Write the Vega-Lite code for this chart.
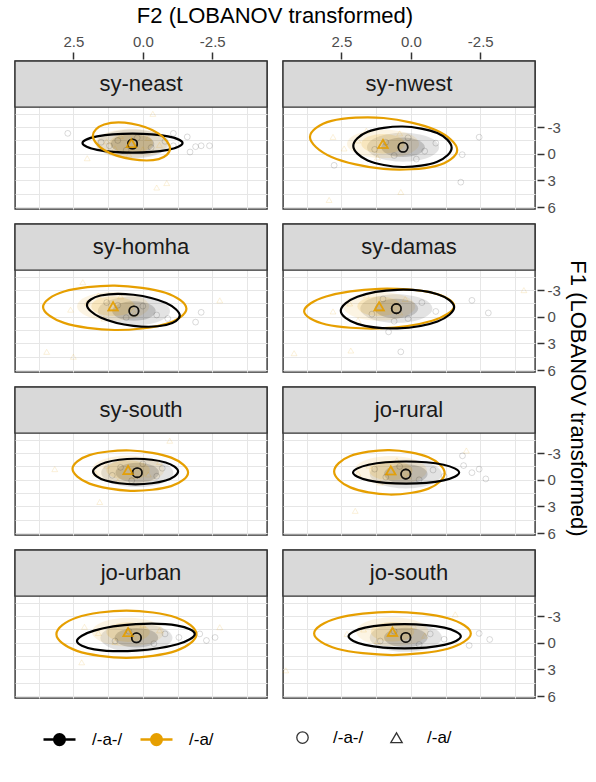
{
 "$schema": "https://vega.github.io/schema/vega-lite/v6.json",
 "padding": {"left": 13, "top": 5, "right": 5, "bottom": 5},
 "title": {"text": "F1 (LOBANOV transformed)", "orient": "right", "anchor": "middle", "font": "Liberation Sans", "fontSize": 22, "fontWeight": "normal", "color": "#000000", "offset": 6, "dx": 21},
 "data": {"values": [
  {"region":"sy-neast","kind":"e","vowel":"/-a-/","i":0,"F2":2.17,"F1":-1.2},
  {"region":"sy-neast","kind":"e","vowel":"/-a-/","i":1,"F2":1.643,"F1":-0.444},
  {"region":"sy-neast","kind":"e","vowel":"/-a-/","i":2,"F2":0.37,"F1":-0.13},
  {"region":"sy-neast","kind":"e","vowel":"/-a-/","i":3,"F2":-0.903,"F1":-0.444},
  {"region":"sy-neast","kind":"e","vowel":"/-a-/","i":4,"F2":-1.43,"F1":-1.2},
  {"region":"sy-neast","kind":"e","vowel":"/-a-/","i":5,"F2":-0.903,"F1":-1.956},
  {"region":"sy-neast","kind":"e","vowel":"/-a-/","i":6,"F2":0.37,"F1":-2.27},
  {"region":"sy-neast","kind":"e","vowel":"/-a-/","i":7,"F2":1.643,"F1":-1.956},
  {"region":"sy-neast","kind":"e","vowel":"/-a/","i":0,"F2":1.8,"F1":-2.03},
  {"region":"sy-neast","kind":"e","vowel":"/-a/","i":1,"F2":1.393,"F1":-0.431},
  {"region":"sy-neast","kind":"e","vowel":"/-a/","i":2,"F2":0.41,"F1":0.6},
  {"region":"sy-neast","kind":"e","vowel":"/-a/","i":3,"F2":-0.573,"F1":0.601},
  {"region":"sy-neast","kind":"e","vowel":"/-a/","i":4,"F2":-0.98,"F1":-0.57},
  {"region":"sy-neast","kind":"e","vowel":"/-a/","i":5,"F2":-0.573,"F1":-2.269},
  {"region":"sy-neast","kind":"e","vowel":"/-a/","i":6,"F2":0.41,"F1":-3.4},
  {"region":"sy-neast","kind":"e","vowel":"/-a/","i":7,"F2":1.393,"F1":-3.301},
  {"region":"sy-nwest","kind":"e","vowel":"/-a/","i":0,"F2":3.63,"F1":-1.89},
  {"region":"sy-nwest","kind":"e","vowel":"/-a/","i":1,"F2":2.854,"F1":0.353},
  {"region":"sy-nwest","kind":"e","vowel":"/-a/","i":2,"F2":0.98,"F1":1.71},
  {"region":"sy-nwest","kind":"e","vowel":"/-a/","i":3,"F2":-0.894,"F1":1.385},
  {"region":"sy-nwest","kind":"e","vowel":"/-a/","i":4,"F2":-1.67,"F1":-0.43},
  {"region":"sy-nwest","kind":"e","vowel":"/-a/","i":5,"F2":-0.894,"F1":-2.673},
  {"region":"sy-nwest","kind":"e","vowel":"/-a/","i":6,"F2":0.98,"F1":-4.03},
  {"region":"sy-nwest","kind":"e","vowel":"/-a/","i":7,"F2":2.854,"F1":-3.705},
  {"region":"sy-nwest","kind":"e","vowel":"/-a-/","i":0,"F2":2.07,"F1":-0.89},
  {"region":"sy-nwest","kind":"e","vowel":"/-a-/","i":1,"F2":1.551,"F1":0.751},
  {"region":"sy-nwest","kind":"e","vowel":"/-a-/","i":2,"F2":0.3,"F1":1.49},
  {"region":"sy-nwest","kind":"e","vowel":"/-a-/","i":3,"F2":-0.951,"F1":0.893},
  {"region":"sy-nwest","kind":"e","vowel":"/-a-/","i":4,"F2":-1.47,"F1":-0.69},
  {"region":"sy-nwest","kind":"e","vowel":"/-a-/","i":5,"F2":-0.951,"F1":-2.331},
  {"region":"sy-nwest","kind":"e","vowel":"/-a-/","i":6,"F2":0.3,"F1":-3.07},
  {"region":"sy-nwest","kind":"e","vowel":"/-a-/","i":7,"F2":1.551,"F1":-2.473},
  {"region":"sy-homha","kind":"e","vowel":"/-a/","i":0,"F2":3.59,"F1":-1.11},
  {"region":"sy-homha","kind":"e","vowel":"/-a/","i":1,"F2":2.834,"F1":0.687},
  {"region":"sy-homha","kind":"e","vowel":"/-a/","i":2,"F2":1.01,"F1":1.49},
  {"region":"sy-homha","kind":"e","vowel":"/-a/","i":3,"F2":-0.814,"F1":0.829},
  {"region":"sy-homha","kind":"e","vowel":"/-a/","i":4,"F2":-1.57,"F1":-0.91},
  {"region":"sy-homha","kind":"e","vowel":"/-a/","i":5,"F2":-0.814,"F1":-2.707},
  {"region":"sy-homha","kind":"e","vowel":"/-a/","i":6,"F2":1.01,"F1":-3.51},
  {"region":"sy-homha","kind":"e","vowel":"/-a/","i":7,"F2":2.834,"F1":-2.849},
  {"region":"sy-homha","kind":"e","vowel":"/-a-/","i":0,"F2":2.01,"F1":-1.33},
  {"region":"sy-homha","kind":"e","vowel":"/-a-/","i":1,"F2":1.521,"F1":0.083},
  {"region":"sy-homha","kind":"e","vowel":"/-a-/","i":2,"F2":0.34,"F1":1.02},
  {"region":"sy-homha","kind":"e","vowel":"/-a-/","i":3,"F2":-0.841,"F1":0.931},
  {"region":"sy-homha","kind":"e","vowel":"/-a-/","i":4,"F2":-1.33,"F1":-0.13},
  {"region":"sy-homha","kind":"e","vowel":"/-a-/","i":5,"F2":-0.841,"F1":-1.543},
  {"region":"sy-homha","kind":"e","vowel":"/-a-/","i":6,"F2":0.34,"F1":-2.48},
  {"region":"sy-homha","kind":"e","vowel":"/-a-/","i":7,"F2":1.521,"F1":-2.391},
  {"region":"sy-damas","kind":"e","vowel":"/-a/","i":0,"F2":3.84,"F1":-0.62},
  {"region":"sy-damas","kind":"e","vowel":"/-a/","i":1,"F2":3.049,"F1":0.869},
  {"region":"sy-damas","kind":"e","vowel":"/-a/","i":2,"F2":1.14,"F1":1.31},
  {"region":"sy-damas","kind":"e","vowel":"/-a/","i":3,"F2":-0.769,"F1":0.445},
  {"region":"sy-damas","kind":"e","vowel":"/-a/","i":4,"F2":-1.56,"F1":-1.22},
  {"region":"sy-damas","kind":"e","vowel":"/-a/","i":5,"F2":-0.769,"F1":-2.709},
  {"region":"sy-damas","kind":"e","vowel":"/-a/","i":6,"F2":1.14,"F1":-3.15},
  {"region":"sy-damas","kind":"e","vowel":"/-a/","i":7,"F2":3.049,"F1":-2.285},
  {"region":"sy-damas","kind":"e","vowel":"/-a-/","i":0,"F2":2.52,"F1":-0.67},
  {"region":"sy-damas","kind":"e","vowel":"/-a-/","i":1,"F2":1.922,"F1":0.805},
  {"region":"sy-damas","kind":"e","vowel":"/-a-/","i":2,"F2":0.48,"F1":1.3},
  {"region":"sy-damas","kind":"e","vowel":"/-a-/","i":3,"F2":-0.962,"F1":0.523},
  {"region":"sy-damas","kind":"e","vowel":"/-a-/","i":4,"F2":-1.56,"F1":-1.07},
  {"region":"sy-damas","kind":"e","vowel":"/-a-/","i":5,"F2":-0.962,"F1":-2.545},
  {"region":"sy-damas","kind":"e","vowel":"/-a-/","i":6,"F2":0.48,"F1":-3.04},
  {"region":"sy-damas","kind":"e","vowel":"/-a-/","i":7,"F2":1.922,"F1":-2.263},
  {"region":"sy-south","kind":"e","vowel":"/-a/","i":0,"F2":2.53,"F1":-1.23},
  {"region":"sy-south","kind":"e","vowel":"/-a/","i":1,"F2":1.921,"F1":0.434},
  {"region":"sy-south","kind":"e","vowel":"/-a/","i":2,"F2":0.45,"F1":1.24},
  {"region":"sy-south","kind":"e","vowel":"/-a/","i":3,"F2":-1.021,"F1":0.716},
  {"region":"sy-south","kind":"e","vowel":"/-a/","i":4,"F2":-1.63,"F1":-0.83},
  {"region":"sy-south","kind":"e","vowel":"/-a/","i":5,"F2":-1.021,"F1":-2.494},
  {"region":"sy-south","kind":"e","vowel":"/-a/","i":6,"F2":0.45,"F1":-3.3},
  {"region":"sy-south","kind":"e","vowel":"/-a/","i":7,"F2":1.921,"F1":-2.776},
  {"region":"sy-south","kind":"e","vowel":"/-a-/","i":0,"F2":1.79,"F1":-0.93},
  {"region":"sy-south","kind":"e","vowel":"/-a-/","i":1,"F2":1.342,"F1":0.088},
  {"region":"sy-south","kind":"e","vowel":"/-a-/","i":2,"F2":0.26,"F1":0.51},
  {"region":"sy-south","kind":"e","vowel":"/-a-/","i":3,"F2":-0.822,"F1":0.088},
  {"region":"sy-south","kind":"e","vowel":"/-a-/","i":4,"F2":-1.27,"F1":-0.93},
  {"region":"sy-south","kind":"e","vowel":"/-a-/","i":5,"F2":-0.822,"F1":-1.948},
  {"region":"sy-south","kind":"e","vowel":"/-a-/","i":6,"F2":0.26,"F1":-2.37},
  {"region":"sy-south","kind":"e","vowel":"/-a-/","i":7,"F2":1.342,"F1":-1.948},
  {"region":"jo-rural","kind":"e","vowel":"/-a/","i":0,"F2":2.76,"F1":-0.94},
  {"region":"jo-rural","kind":"e","vowel":"/-a/","i":1,"F2":2.177,"F1":0.857},
  {"region":"jo-rural","kind":"e","vowel":"/-a/","i":2,"F2":0.77,"F1":1.66},
  {"region":"jo-rural","kind":"e","vowel":"/-a/","i":3,"F2":-0.637,"F1":0.999},
  {"region":"jo-rural","kind":"e","vowel":"/-a/","i":4,"F2":-1.22,"F1":-0.74},
  {"region":"jo-rural","kind":"e","vowel":"/-a/","i":5,"F2":-0.637,"F1":-2.537},
  {"region":"jo-rural","kind":"e","vowel":"/-a/","i":6,"F2":0.77,"F1":-3.34},
  {"region":"jo-rural","kind":"e","vowel":"/-a/","i":7,"F2":2.177,"F1":-2.679},
  {"region":"jo-rural","kind":"e","vowel":"/-a-/","i":0,"F2":2.08,"F1":-0.81},
  {"region":"jo-rural","kind":"e","vowel":"/-a-/","i":1,"F2":1.52,"F1":0.074},
  {"region":"jo-rural","kind":"e","vowel":"/-a-/","i":2,"F2":0.17,"F1":0.44},
  {"region":"jo-rural","kind":"e","vowel":"/-a-/","i":3,"F2":-1.18,"F1":0.074},
  {"region":"jo-rural","kind":"e","vowel":"/-a-/","i":4,"F2":-1.74,"F1":-0.81},
  {"region":"jo-rural","kind":"e","vowel":"/-a-/","i":5,"F2":-1.18,"F1":-1.694},
  {"region":"jo-rural","kind":"e","vowel":"/-a-/","i":6,"F2":0.17,"F1":-2.06},
  {"region":"jo-rural","kind":"e","vowel":"/-a-/","i":7,"F2":1.52,"F1":-1.694},
  {"region":"jo-urban","kind":"e","vowel":"/-a/","i":0,"F2":3.11,"F1":-0.97},
  {"region":"jo-urban","kind":"e","vowel":"/-a/","i":1,"F2":2.372,"F1":0.911},
  {"region":"jo-urban","kind":"e","vowel":"/-a/","i":2,"F2":0.59,"F1":1.69},
  {"region":"jo-urban","kind":"e","vowel":"/-a/","i":3,"F2":-1.192,"F1":0.911},
  {"region":"jo-urban","kind":"e","vowel":"/-a/","i":4,"F2":-1.93,"F1":-0.97},
  {"region":"jo-urban","kind":"e","vowel":"/-a/","i":5,"F2":-1.192,"F1":-2.851},
  {"region":"jo-urban","kind":"e","vowel":"/-a/","i":6,"F2":0.59,"F1":-3.63},
  {"region":"jo-urban","kind":"e","vowel":"/-a/","i":7,"F2":2.372,"F1":-2.851},
  {"region":"jo-urban","kind":"e","vowel":"/-a-/","i":0,"F2":2.37,"F1":-0.2},
  {"region":"jo-urban","kind":"e","vowel":"/-a-/","i":1,"F2":1.749,"F1":0.736},
  {"region":"jo-urban","kind":"e","vowel":"/-a-/","i":2,"F2":0.25,"F1":0.89},
  {"region":"jo-urban","kind":"e","vowel":"/-a-/","i":3,"F2":-1.249,"F1":0.17},
  {"region":"jo-urban","kind":"e","vowel":"/-a-/","i":4,"F2":-1.87,"F1":-1.0},
  {"region":"jo-urban","kind":"e","vowel":"/-a-/","i":5,"F2":-1.249,"F1":-1.936},
  {"region":"jo-urban","kind":"e","vowel":"/-a-/","i":6,"F2":0.25,"F1":-2.09},
  {"region":"jo-urban","kind":"e","vowel":"/-a-/","i":7,"F2":1.749,"F1":-1.37},
  {"region":"jo-south","kind":"e","vowel":"/-a/","i":0,"F2":3.48,"F1":-1.05},
  {"region":"jo-south","kind":"e","vowel":"/-a/","i":1,"F2":2.654,"F1":0.668},
  {"region":"jo-south","kind":"e","vowel":"/-a/","i":2,"F2":0.66,"F1":1.38},
  {"region":"jo-south","kind":"e","vowel":"/-a/","i":3,"F2":-1.334,"F1":0.668},
  {"region":"jo-south","kind":"e","vowel":"/-a/","i":4,"F2":-2.16,"F1":-1.05},
  {"region":"jo-south","kind":"e","vowel":"/-a/","i":5,"F2":-1.334,"F1":-2.768},
  {"region":"jo-south","kind":"e","vowel":"/-a/","i":6,"F2":0.66,"F1":-3.48},
  {"region":"jo-south","kind":"e","vowel":"/-a/","i":7,"F2":2.654,"F1":-2.768},
  {"region":"jo-south","kind":"e","vowel":"/-a-/","i":0,"F2":2.24,"F1":-0.73},
  {"region":"jo-south","kind":"e","vowel":"/-a-/","i":1,"F2":1.648,"F1":0.239},
  {"region":"jo-south","kind":"e","vowel":"/-a-/","i":2,"F2":0.22,"F1":0.64},
  {"region":"jo-south","kind":"e","vowel":"/-a-/","i":3,"F2":-1.208,"F1":0.239},
  {"region":"jo-south","kind":"e","vowel":"/-a-/","i":4,"F2":-1.8,"F1":-0.73},
  {"region":"jo-south","kind":"e","vowel":"/-a-/","i":5,"F2":-1.208,"F1":-1.699},
  {"region":"jo-south","kind":"e","vowel":"/-a-/","i":6,"F2":0.22,"F1":-2.1},
  {"region":"jo-south","kind":"e","vowel":"/-a-/","i":7,"F2":1.648,"F1":-1.699},
  {"region":"sy-neast","kind":"m","vowel":"/-a-/","F2":0.37,"F1":-1.1},
  {"region":"sy-neast","kind":"m","vowel":"/-a/","F2":0.41,"F1":-1.2},
  {"region":"sy-nwest","kind":"m","vowel":"/-a-/","F2":0.28,"F1":-0.74},
  {"region":"sy-nwest","kind":"m","vowel":"/-a/","F2":1.0,"F1":-1.12},
  {"region":"sy-homha","kind":"m","vowel":"/-a-/","F2":0.32,"F1":-0.65},
  {"region":"sy-homha","kind":"m","vowel":"/-a/","F2":1.07,"F1":-1.18},
  {"region":"sy-damas","kind":"m","vowel":"/-a-/","F2":0.52,"F1":-0.92},
  {"region":"sy-damas","kind":"m","vowel":"/-a/","F2":1.14,"F1":-1.18},
  {"region":"sy-south","kind":"m","vowel":"/-a-/","F2":0.2,"F1":-0.8},
  {"region":"sy-south","kind":"m","vowel":"/-a/","F2":0.53,"F1":-1.1},
  {"region":"jo-rural","kind":"m","vowel":"/-a-/","F2":0.18,"F1":-0.64},
  {"region":"jo-rural","kind":"m","vowel":"/-a/","F2":0.72,"F1":-1.05},
  {"region":"jo-urban","kind":"m","vowel":"/-a-/","F2":0.23,"F1":-0.56},
  {"region":"jo-urban","kind":"m","vowel":"/-a/","F2":0.53,"F1":-1.2},
  {"region":"jo-south","kind":"m","vowel":"/-a-/","F2":0.18,"F1":-0.6},
  {"region":"jo-south","kind":"m","vowel":"/-a/","F2":0.66,"F1":-1.24},
  {"region":"sy-neast","kind":"t","vowel":"/-a-/","F2":0.9,"F1":-1.5},
  {"region":"sy-neast","kind":"t","vowel":"/-a-/","F2":-0.3,"F1":-0.7},
  {"region":"sy-neast","kind":"t","vowel":"/-a-/","F2":1.2,"F1":-0.9},
  {"region":"sy-neast","kind":"t","vowel":"/-a-/","F2":-0.8,"F1":-1.4},
  {"region":"sy-neast","kind":"t","vowel":"/-a-/","F2":0.2,"F1":-1.8},
  {"region":"sy-neast","kind":"t","vowel":"/-a-/","F2":0.6,"F1":-0.4},
  {"region":"sy-neast","kind":"t","vowel":"/-a-/","F2":-1.1,"F1":-0.9},
  {"region":"sy-neast","kind":"t","vowel":"/-a-/","F2":1.5,"F1":-1.3},
  {"region":"sy-neast","kind":"t","vowel":"/-a-/","F2":-1.6,"F1":-1.9},
  {"region":"sy-neast","kind":"t","vowel":"/-a-/","F2":-1.9,"F1":-0.8},
  {"region":"sy-neast","kind":"t","vowel":"/-a-/","F2":-2.1,"F1":-0.9},
  {"region":"sy-neast","kind":"t","vowel":"/-a-/","F2":-2.4,"F1":-0.9},
  {"region":"sy-neast","kind":"t","vowel":"/-a-/","F2":-1.7,"F1":-0.2},
  {"region":"sy-neast","kind":"t","vowel":"/-a-/","F2":2.7,"F1":-2.3},
  {"region":"sy-neast","kind":"t","vowel":"/-a-/","F2":-1.1,"F1":-2.3},
  {"region":"sy-neast","kind":"t","vowel":"/-a/","F2":1.0,"F1":-0.6},
  {"region":"sy-neast","kind":"t","vowel":"/-a/","F2":-0.2,"F1":-1.8},
  {"region":"sy-neast","kind":"t","vowel":"/-a/","F2":0.8,"F1":-2.0},
  {"region":"sy-neast","kind":"t","vowel":"/-a/","F2":0.0,"F1":-0.5},
  {"region":"sy-neast","kind":"t","vowel":"/-a/","F2":1.3,"F1":-1.4},
  {"region":"sy-neast","kind":"t","vowel":"/-a/","F2":-0.6,"F1":-1.0},
  {"region":"sy-neast","kind":"t","vowel":"/-a/","F2":0.5,"F1":0.1},
  {"region":"sy-neast","kind":"t","vowel":"/-a/","F2":-0.36,"F1":-4.5},
  {"region":"sy-neast","kind":"t","vowel":"/-a/","F2":-0.5,"F1":3.8},
  {"region":"sy-neast","kind":"t","vowel":"/-a/","F2":-0.86,"F1":3.3},
  {"region":"sy-neast","kind":"t","vowel":"/-a/","F2":2.0,"F1":0.5},
  {"region":"sy-nwest","kind":"t","vowel":"/-a-/","F2":0.9,"F1":-1.3},
  {"region":"sy-nwest","kind":"t","vowel":"/-a-/","F2":-0.5,"F1":-0.3},
  {"region":"sy-nwest","kind":"t","vowel":"/-a-/","F2":0.6,"F1":0.2},
  {"region":"sy-nwest","kind":"t","vowel":"/-a-/","F2":-0.9,"F1":-1.2},
  {"region":"sy-nwest","kind":"t","vowel":"/-a-/","F2":0.1,"F1":-1.8},
  {"region":"sy-nwest","kind":"t","vowel":"/-a-/","F2":1.3,"F1":-0.5},
  {"region":"sy-nwest","kind":"t","vowel":"/-a-/","F2":-0.2,"F1":0.6},
  {"region":"sy-nwest","kind":"t","vowel":"/-a-/","F2":-2.46,"F1":-1.87},
  {"region":"sy-nwest","kind":"t","vowel":"/-a-/","F2":-1.8,"F1":3.2},
  {"region":"sy-nwest","kind":"t","vowel":"/-a-/","F2":-1.85,"F1":0.1},
  {"region":"sy-nwest","kind":"t","vowel":"/-a-/","F2":2.76,"F1":1.3},
  {"region":"sy-nwest","kind":"t","vowel":"/-a/","F2":1.9,"F1":-1.5},
  {"region":"sy-nwest","kind":"t","vowel":"/-a/","F2":0.4,"F1":-2.3},
  {"region":"sy-nwest","kind":"t","vowel":"/-a/","F2":2.4,"F1":-0.6},
  {"region":"sy-nwest","kind":"t","vowel":"/-a/","F2":1.2,"F1":0.4},
  {"region":"sy-nwest","kind":"t","vowel":"/-a/","F2":1.6,"F1":-2.6},
  {"region":"sy-nwest","kind":"t","vowel":"/-a/","F2":2.8,"F1":-1.9},
  {"region":"sy-nwest","kind":"t","vowel":"/-a/","F2":0.36,"F1":4.3},
  {"region":"sy-nwest","kind":"t","vowel":"/-a/","F2":2.94,"F1":5.2},
  {"region":"sy-homha","kind":"t","vowel":"/-a-/","F2":-0.5,"F1":-0.2},
  {"region":"sy-homha","kind":"t","vowel":"/-a-/","F2":0.9,"F1":-1.3},
  {"region":"sy-homha","kind":"t","vowel":"/-a-/","F2":-0.9,"F1":0.2},
  {"region":"sy-homha","kind":"t","vowel":"/-a-/","F2":1.3,"F1":-1.6},
  {"region":"sy-homha","kind":"t","vowel":"/-a-/","F2":0.0,"F1":-1.2},
  {"region":"sy-homha","kind":"t","vowel":"/-a-/","F2":0.6,"F1":0.1},
  {"region":"sy-homha","kind":"t","vowel":"/-a-/","F2":-1.9,"F1":0.6},
  {"region":"sy-homha","kind":"t","vowel":"/-a-/","F2":-2.1,"F1":-0.5},
  {"region":"sy-homha","kind":"t","vowel":"/-a/","F2":2.0,"F1":-1.6},
  {"region":"sy-homha","kind":"t","vowel":"/-a/","F2":0.3,"F1":-0.4},
  {"region":"sy-homha","kind":"t","vowel":"/-a/","F2":1.6,"F1":-2.4},
  {"region":"sy-homha","kind":"t","vowel":"/-a/","F2":2.6,"F1":-0.8},
  {"region":"sy-homha","kind":"t","vowel":"/-a/","F2":0.8,"F1":-2.3},
  {"region":"sy-homha","kind":"t","vowel":"/-a/","F2":1.4,"F1":0.2},
  {"region":"sy-homha","kind":"t","vowel":"/-a/","F2":3.46,"F1":3.95},
  {"region":"sy-homha","kind":"t","vowel":"/-a/","F2":-2.77,"F1":-1.85},
  {"region":"sy-homha","kind":"t","vowel":"/-a/","F2":2.16,"F1":-3.9},
  {"region":"sy-homha","kind":"t","vowel":"/-a/","F2":2.5,"F1":4.5},
  {"region":"sy-damas","kind":"t","vowel":"/-a-/","F2":-0.4,"F1":-1.6},
  {"region":"sy-damas","kind":"t","vowel":"/-a-/","F2":1.4,"F1":-0.3},
  {"region":"sy-damas","kind":"t","vowel":"/-a-/","F2":0.1,"F1":0.2},
  {"region":"sy-damas","kind":"t","vowel":"/-a-/","F2":1.0,"F1":-2.0},
  {"region":"sy-damas","kind":"t","vowel":"/-a-/","F2":-0.9,"F1":-0.6},
  {"region":"sy-damas","kind":"t","vowel":"/-a-/","F2":0.6,"F1":0.5},
  {"region":"sy-damas","kind":"t","vowel":"/-a-/","F2":-2.79,"F1":-0.43},
  {"region":"sy-damas","kind":"t","vowel":"/-a-/","F2":-2.2,"F1":-1.85},
  {"region":"sy-damas","kind":"t","vowel":"/-a-/","F2":0.36,"F1":3.95},
  {"region":"sy-damas","kind":"t","vowel":"/-a-/","F2":0.8,"F1":1.7},
  {"region":"sy-damas","kind":"t","vowel":"/-a/","F2":2.2,"F1":-1.5},
  {"region":"sy-damas","kind":"t","vowel":"/-a/","F2":0.4,"F1":-0.5},
  {"region":"sy-damas","kind":"t","vowel":"/-a/","F2":2.8,"F1":-0.6},
  {"region":"sy-damas","kind":"t","vowel":"/-a/","F2":1.6,"F1":-2.4},
  {"region":"sy-damas","kind":"t","vowel":"/-a/","F2":0.2,"F1":-2.0},
  {"region":"sy-damas","kind":"t","vowel":"/-a/","F2":1.9,"F1":0.4},
  {"region":"sy-damas","kind":"t","vowel":"/-a/","F2":4.2,"F1":4.1},
  {"region":"sy-damas","kind":"t","vowel":"/-a/","F2":2.16,"F1":3.8},
  {"region":"sy-damas","kind":"t","vowel":"/-a/","F2":-4.07,"F1":-3.0},
  {"region":"sy-south","kind":"t","vowel":"/-a-/","F2":0.8,"F1":-1.4},
  {"region":"sy-south","kind":"t","vowel":"/-a-/","F2":-0.5,"F1":-0.4},
  {"region":"sy-south","kind":"t","vowel":"/-a-/","F2":0.4,"F1":0.1},
  {"region":"sy-south","kind":"t","vowel":"/-a-/","F2":-0.7,"F1":-1.3},
  {"region":"sy-south","kind":"t","vowel":"/-a-/","F2":1.1,"F1":-0.5},
  {"region":"sy-south","kind":"t","vowel":"/-a-/","F2":0.0,"F1":-1.8},
  {"region":"sy-south","kind":"t","vowel":"/-a/","F2":1.3,"F1":-1.6},
  {"region":"sy-south","kind":"t","vowel":"/-a/","F2":-0.2,"F1":-0.6},
  {"region":"sy-south","kind":"t","vowel":"/-a/","F2":0.9,"F1":0.2},
  {"region":"sy-south","kind":"t","vowel":"/-a/","F2":-0.6,"F1":-2.0},
  {"region":"sy-south","kind":"t","vowel":"/-a/","F2":1.7,"F1":-0.7},
  {"region":"sy-south","kind":"t","vowel":"/-a/","F2":1.55,"F1":2.5},
  {"region":"sy-south","kind":"t","vowel":"/-a/","F2":-0.97,"F1":-4.4},
  {"region":"sy-south","kind":"t","vowel":"/-a/","F2":3.17,"F1":-1.2},
  {"region":"jo-rural","kind":"t","vowel":"/-a-/","F2":-0.8,"F1":-1.1},
  {"region":"jo-rural","kind":"t","vowel":"/-a-/","F2":0.9,"F1":-0.3},
  {"region":"jo-rural","kind":"t","vowel":"/-a-/","F2":-0.3,"F1":0.0},
  {"region":"jo-rural","kind":"t","vowel":"/-a-/","F2":1.3,"F1":-1.2},
  {"region":"jo-rural","kind":"t","vowel":"/-a-/","F2":-1.2,"F1":-0.4},
  {"region":"jo-rural","kind":"t","vowel":"/-a-/","F2":0.4,"F1":-1.5},
  {"region":"jo-rural","kind":"t","vowel":"/-a-/","F2":-1.86,"F1":-2.7},
  {"region":"jo-rural","kind":"t","vowel":"/-a-/","F2":-2.7,"F1":-0.1},
  {"region":"jo-rural","kind":"t","vowel":"/-a-/","F2":-2.46,"F1":-1.2},
  {"region":"jo-rural","kind":"t","vowel":"/-a-/","F2":-1.9,"F1":-1.6},
  {"region":"jo-rural","kind":"t","vowel":"/-a-/","F2":-2.2,"F1":-0.8},
  {"region":"jo-rural","kind":"t","vowel":"/-a/","F2":1.5,"F1":-1.6},
  {"region":"jo-rural","kind":"t","vowel":"/-a/","F2":0.1,"F1":-0.4},
  {"region":"jo-rural","kind":"t","vowel":"/-a/","F2":1.9,"F1":-0.7},
  {"region":"jo-rural","kind":"t","vowel":"/-a/","F2":0.5,"F1":-2.2},
  {"region":"jo-rural","kind":"t","vowel":"/-a/","F2":1.1,"F1":0.3},
  {"region":"jo-rural","kind":"t","vowel":"/-a/","F2":2.0,"F1":3.5},
  {"region":"jo-rural","kind":"t","vowel":"/-a/","F2":-2.0,"F1":-3.3},
  {"region":"jo-urban","kind":"t","vowel":"/-a-/","F2":-0.8,"F1":-1.0},
  {"region":"jo-urban","kind":"t","vowel":"/-a-/","F2":1.0,"F1":-0.2},
  {"region":"jo-urban","kind":"t","vowel":"/-a-/","F2":-1.3,"F1":-0.6},
  {"region":"jo-urban","kind":"t","vowel":"/-a-/","F2":0.5,"F1":-1.3},
  {"region":"jo-urban","kind":"t","vowel":"/-a-/","F2":-0.4,"F1":0.1},
  {"region":"jo-urban","kind":"t","vowel":"/-a-/","F2":-2.29,"F1":-0.26},
  {"region":"jo-urban","kind":"t","vowel":"/-a-/","F2":-2.05,"F1":-1.0},
  {"region":"jo-urban","kind":"t","vowel":"/-a-/","F2":-2.6,"F1":-0.6},
  {"region":"jo-urban","kind":"t","vowel":"/-a/","F2":1.6,"F1":-1.1},
  {"region":"jo-urban","kind":"t","vowel":"/-a/","F2":0.0,"F1":-2.0},
  {"region":"jo-urban","kind":"t","vowel":"/-a/","F2":1.0,"F1":-0.1},
  {"region":"jo-urban","kind":"t","vowel":"/-a/","F2":2.1,"F1":-1.8},
  {"region":"jo-urban","kind":"t","vowel":"/-a/","F2":-0.6,"F1":-1.4},
  {"region":"jo-urban","kind":"t","vowel":"/-a/","F2":-2.77,"F1":-1.76},
  {"region":"jo-urban","kind":"t","vowel":"/-a/","F2":2.2,"F1":2.2},
  {"region":"jo-south","kind":"t","vowel":"/-a-/","F2":-0.7,"F1":-1.0},
  {"region":"jo-south","kind":"t","vowel":"/-a-/","F2":1.1,"F1":-0.2},
  {"region":"jo-south","kind":"t","vowel":"/-a-/","F2":-1.2,"F1":-0.4},
  {"region":"jo-south","kind":"t","vowel":"/-a-/","F2":0.6,"F1":-1.3},
  {"region":"jo-south","kind":"t","vowel":"/-a-/","F2":-0.3,"F1":0.2},
  {"region":"jo-south","kind":"t","vowel":"/-a-/","F2":-2.84,"F1":-0.37},
  {"region":"jo-south","kind":"t","vowel":"/-a-/","F2":-2.46,"F1":-1.05},
  {"region":"jo-south","kind":"t","vowel":"/-a-/","F2":-2.1,"F1":0.3},
  {"region":"jo-south","kind":"t","vowel":"/-a/","F2":1.7,"F1":-1.5},
  {"region":"jo-south","kind":"t","vowel":"/-a/","F2":-0.1,"F1":-1.9},
  {"region":"jo-south","kind":"t","vowel":"/-a/","F2":1.2,"F1":-0.2},
  {"region":"jo-south","kind":"t","vowel":"/-a/","F2":2.3,"F1":-1.0},
  {"region":"jo-south","kind":"t","vowel":"/-a/","F2":-0.5,"F1":-0.8},
  {"region":"jo-south","kind":"t","vowel":"/-a/","F2":4.5,"F1":3.1},
  {"region":"jo-south","kind":"t","vowel":"/-a/","F2":-1.6,"F1":-3.2}
 ]},
 "facet": {
  "field": "region", "type": "nominal", "title": "F2 (LOBANOV transformed)",
  "sort": ["sy-neast","sy-nwest","sy-homha","sy-damas","sy-south","jo-rural","jo-urban","jo-south"],
  "header": {"labels": false, "labelFontSize": 0, "labelPadding": 0, "labelExpr": "''",
   "titleFont": "Liberation Sans", "titleFontSize": 22, "titleFontWeight": "normal", "titleColor": "#000000", "titlePadding": 6}
 },
 "columns": 2,
 "spacing": {"row": 12, "column": 11},
 "spec": {
  "width": 252,
  "height": 148,
  "encoding": {
   "x": {"field": "F2", "type": "quantitative",
    "scale": {"domain": [-4.47, 4.6], "reverse": true, "nice": false, "zero": false},
    "axis": {"orient": "top", "title": null,
     "values": [-3.75, -2.5, -1.25, 0, 1.25, 2.5, 3.75],
     "labelExpr": "datum.value % 2.5 === 0 ? replace(format(datum.value, '.1f'), '\u2212', '-') : ''",
     "tickOpacity": {"condition": {"test": "datum.value % 2.5 !== 0", "value": 0}, "value": 1}}},
   "y": {"field": "F1", "type": "quantitative",
    "scale": {"domain": [-10.45, 6.22], "reverse": true, "nice": false, "zero": false},
    "axis": {"orient": "right", "title": null,
     "values": [-4.5, -3, -1.5, 0, 1.5, 3, 4.5, 6],
     "labelExpr": "datum.value % 3 === 0 ? replace(format(datum.value, 'd'), '\u2212', '-') : ''",
     "tickOpacity": {"condition": {"test": "datum.value % 3 !== 0", "value": 0}, "value": 1}}}
  },
  "layer": [
   {
    "transform": [{"filter": "datum.kind === 'm' && datum.vowel === '/-a-/'"}],
    "mark": {"type": "rect", "fill": "#D9D9D9", "stroke": "#333333", "strokeWidth": 1.4},
    "encoding": {
     "x": {"datum": 4.6}, "x2": {"datum": -4.47},
     "y": {"datum": -10.45}, "y2": {"datum": -5.25}
    }
   },
   {
    "transform": [{"filter": "datum.kind === 'm' && datum.vowel === '/-a-/'"}],
    "mark": {"type": "text", "font": "Liberation Sans", "fontSize": 22, "color": "#1A1A1A", "baseline": "middle", "align": "center"},
    "encoding": {
     "x": {"datum": 0.065},
     "y": {"datum": -7.85},
     "text": {"field": "region"}
    }
   },
   {
    "transform": [{"filter": "datum.kind === 'm'"}],
    "mark": {"type": "point", "filled": true, "shape": "M-1,0A1,0.4,0,1,1,1,0A1,0.4,0,1,1,-1,0Z", "size": 5200, "opacity": 0.11, "strokeWidth": 0},
    "encoding": {
     "color": {"field": "vowel", "type": "nominal", "scale": {"domain": ["/-a-/", "/-a/"], "range": ["#000000", "#E69F00"]}}
    }
   },
   {
    "transform": [{"filter": "datum.kind === 'm'"}],
    "mark": {"type": "point", "filled": true, "shape": "M-1,0A1,0.45,0,1,1,1,0A1,0.45,0,1,1,-1,0Z", "size": 1900, "opacity": 0.16, "strokeWidth": 0},
    "encoding": {
     "color": {"field": "vowel", "type": "nominal", "scale": {"domain": ["/-a-/", "/-a/"], "range": ["#000000", "#E69F00"]}}
    }
   },
   {
    "transform": [{"filter": "datum.kind === 'm'"}],
    "mark": {"type": "point", "filled": false, "size": 90, "strokeWidth": 1.6},
    "encoding": {
     "color": {"field": "vowel", "type": "nominal", "scale": {"domain": ["/-a-/", "/-a/"], "range": ["#000000", "#E69F00"]}},
     "shape": {"field": "vowel", "type": "nominal", "scale": {"range": ["circle", "triangle-up"]},
      "legend": {"orient": "none", "legendX": 279, "legendY": 668, "title": null, "direction": "horizontal",
       "symbolSize": 130, "symbolStrokeWidth": 1.3, "symbolOpacity": 1, "symbolStrokeColor": "#333333", "symbolFillColor": "transparent",
       "labelFontSize": 17, "labelOffset": 22, "columnPadding": 24,
       "encode": {"symbols": {"update": {"stroke": {"value": "#333333"}, "fill": {"value": "transparent"}, "opacity": {"value": 1}, "strokeOpacity": {"value": 1}}}}}}
    }
   },
   {
    "transform": [{"filter": "datum.kind === 't'"}],
    "mark": {"type": "point", "filled": false, "size": 34, "strokeWidth": 1, "strokeOpacity": 0.2},
    "encoding": {
     "color": {"field": "vowel", "type": "nominal", "scale": {"domain": ["/-a-/", "/-a/"], "range": ["#000000", "#E69F00"]}},
     "shape": {"field": "vowel", "type": "nominal"}
    }
   },
   {
    "transform": [{"filter": "datum.kind === 'e'"}],
    "mark": {"type": "line", "interpolate": "cardinal-closed", "strokeWidth": 2.2},
    "encoding": {
     "color": {"field": "vowel", "type": "nominal",
      "scale": {"domain": ["/-a-/", "/-a/"], "range": ["#000000", "#E69F00"]},
      "legend": {"orient": "none", "legendX": 27, "legendY": 661, "title": null, "direction": "horizontal",
       "symbolType": "M-1,0H1M-0.33,0A0.33,0.33,0,1,1,0.33,0A0.33,0.33,0,1,1,-0.33,0Z",
       "symbolSize": 1024, "symbolStrokeWidth": 2.5, "symbolOpacity": 1, "labelFontSize": 17, "labelOffset": 15, "columnPadding": 12,
       "encode": {"symbols": {"update": {"fill": {"scale": "color", "field": "value"}, "stroke": {"scale": "color", "field": "value"}, "opacity": {"value": 1}}}}}},
     "order": {"field": "i", "type": "quantitative"}
    }
   },
   {
    "transform": [{"filter": "datum.kind === 'm'"}],
    "mark": {"type": "point", "filled": false, "size": 90, "strokeWidth": 1.6},
    "encoding": {
     "color": {"field": "vowel", "type": "nominal", "scale": {"domain": ["/-a-/", "/-a/"], "range": ["#000000", "#E69F00"]}},
     "shape": {"field": "vowel", "type": "nominal"}
    }
   }
  ]
 },
 "config": {
  "font": "Liberation Sans",
  "view": {"stroke": "#333333", "strokeWidth": 1.4},
  "headerFacet": {"labels": false},
  "axis": {"labelFont": "Liberation Sans", "labelFontSize": 15, "labelColor": "#4D4D4D",
   "titleFont": "Liberation Sans", "titleFontSize": 22, "titleFontWeight": "normal", "titleColor": "#000000",
   "tickColor": "#333333", "tickSize": 7, "tickWidth": 1.5, "domain": false,
   "gridColor": "#E6E6E6", "gridWidth": 1, "labelPadding": 3},
  "legend": {"labelFont": "Liberation Sans", "labelColor": "#000000"}
 }
}
